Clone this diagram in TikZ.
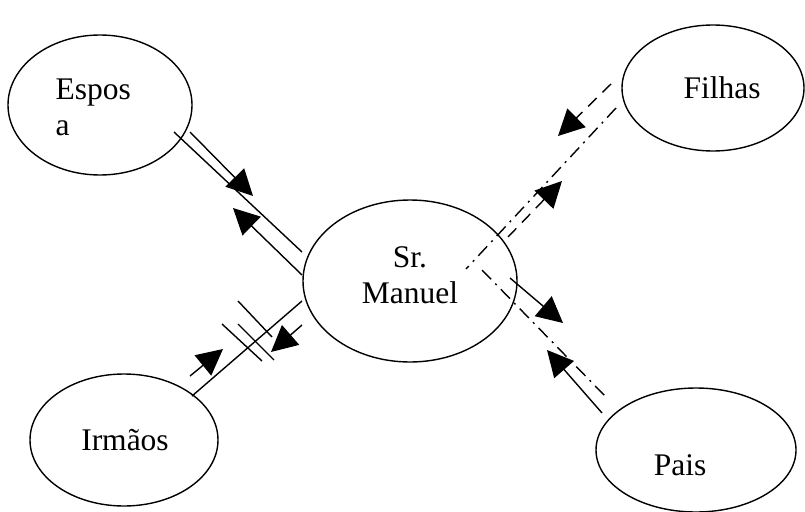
\documentclass[tikz,border=0pt]{standalone}
\usepackage{fontspec}
\setmainfont{Liberation Serif}
\usetikzlibrary{shapes.geometric,arrows.meta}

\begin{document}
\begin{tikzpicture}[x=1pt,y=-1pt,
  line width=1.4pt,
  person/.style={draw,ellipse,inner sep=0pt},
  label/.style={font=\fontsize{31.5}{36}\selectfont,inner sep=0pt},
  tie/.style={draw,line cap=butt},
  arrowtie/.style={tie,-{Triangle[length=26pt,width=26pt]}},
  dashtie/.style={dash pattern=on 12pt off 8pt},
  dotdashtie/.style={dash pattern=on 13pt off 6pt on 2pt off 6pt}]

\useasboundingbox (0,0) rectangle (805,511);
\fill[white] (0,0) rectangle (805,511);

% people
\node[person,minimum width=184pt,minimum height=140pt] (espos)  at (100,105) {};
\node[person,minimum width=214pt,minimum height=162pt] (manuel) at (410,281) {};
\node[person,minimum width=182pt,minimum height=126pt] (filhas) at (713,88) {};
\node[person,minimum width=188pt,minimum height=132pt] (irmaos) at (124,440) {};
\node[person,minimum width=200pt,minimum height=124pt] (pais)   at (696,450) {};

% names
\node[label,anchor=base west] (esposA) at (55,99) {Espos};
\node[label,anchor=base west] (esposB) at (55,135) {a};
\node[label,anchor=base] (manuelA) at (410,267) {Sr.};
\node[label,anchor=base] (manuelB) at (410,303) {Manuel};
\node[label,anchor=base] (filhasT) at (722,98) {Filhas};
\node[label,anchor=base] (irmaosT) at (125,450) {Irmãos};
\node[label,anchor=base] (paisT) at (680,475) {Pais};

% end points of the ties
\coordinate (eA1) at (174,132); \coordinate (eA2) at (302,252);
\coordinate (eB1) at (190,132); \coordinate (eB2) at (253,196);
\coordinate (eC1) at (302,275); \coordinate (eC2) at (233,208);

\coordinate (iA1) at (192,396); \coordinate (iA2) at (302,301);
\coordinate (iB1) at (190,376); \coordinate (iB2) at (223,349);
\coordinate (iC1) at (302,325); \coordinate (iC2) at (271,352);
\coordinate (h11) at (222,324); \coordinate (h12) at (262,361);
\coordinate (h21) at (238,324); \coordinate (h22) at (274,360);
\coordinate (h31) at (238,301); \coordinate (h32) at (272,337);

\coordinate (fA1) at (616,108); \coordinate (fA2) at (466,269);
\coordinate (fB1) at (611,84);  \coordinate (fB2) at (558,136);
\coordinate (fC1) at (508,237); \coordinate (fC2) at (562,181);

\coordinate (pA1) at (482,270); \coordinate (pA2) at (605,396);
\coordinate (pB1) at (510,278); \coordinate (pB2) at (563,323);
\coordinate (pC1) at (602,413); \coordinate (pC2) at (547,350);

% wife
\draw[tie] (eA1) -- (eA2);
\draw[arrowtie] (eB1) -- (eB2);
\draw[arrowtie] (eC1) -- (eC2);

% brothers and sisters: broken tie
\draw[tie] (iA1) -- (iA2);
\draw[arrowtie] (iB1) -- (iB2);
\draw[arrowtie] (iC1) -- (iC2);
\draw[tie] (h11) -- (h12);
\draw[tie] (h21) -- (h22);
\draw[tie] (h31) -- (h32);

% daughters
\draw[tie,dotdashtie] (fA1) -- (fA2);
\draw[arrowtie,dashtie] (fB1) -- (fB2);
\draw[arrowtie,dashtie] (fC1) -- (fC2);

% parents
\draw[tie,dotdashtie] (pA1) -- (pA2);
\draw[arrowtie] (pB1) -- (pB2);
\draw[arrowtie] (pC1) -- (pC2);
\end{tikzpicture}
\end{document}
